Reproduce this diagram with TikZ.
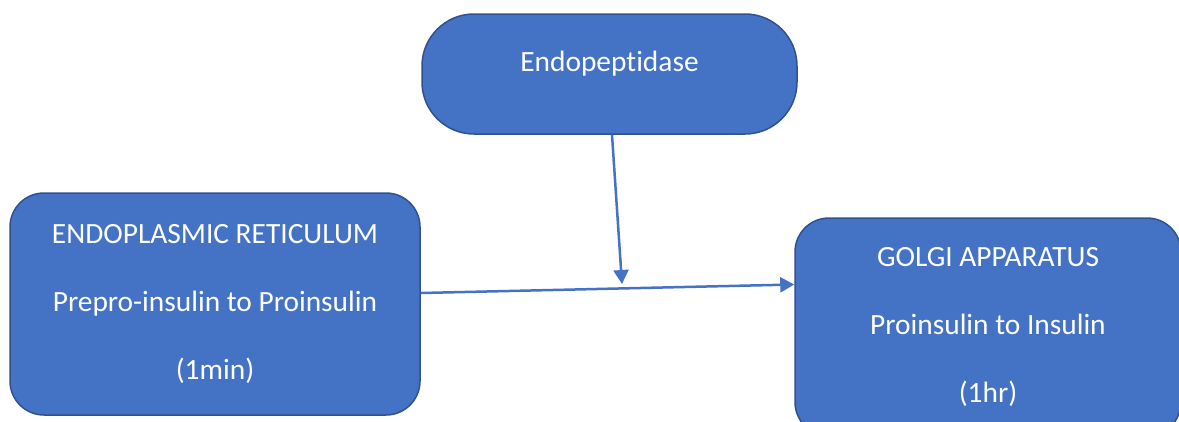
\documentclass[tikz,border=0pt]{standalone}
\usepackage{fontspec}
\setmainfont{Carlito}[Ligatures=NoCommon]
\usepackage{xcolor}
\usetikzlibrary{arrows.meta}

\definecolor{boxblue}{HTML}{4472C4}
\definecolor{edgeblue}{HTML}{2F528F}

\begin{document}
\begin{tikzpicture}[x=1pt, y=-1pt,
    organelle/.style={rectangle, rounded corners=34pt, draw=edgeblue, line width=1.5pt, fill=boxblue, text=white, align=center, inner sep=0pt, font=\fontsize{29.4}{68}\selectfont},
    enzyme/.style={rectangle, rounded corners=52pt, draw=edgeblue, line width=1.5pt, fill=boxblue, text=white, inner sep=0pt, font=\fontsize{29.4}{35}\selectfont},
    arrow/.style={-{Triangle[length=14pt, width=15pt]}, line width=2.5pt, draw=boxblue}
]
\useasboundingbox (0,0) rectangle (1179,421);

\node[enzyme, minimum width=375pt, minimum height=120pt, text height=20pt, text depth=26pt] (ep) at (609.5,74) {Endopeptidase};
\node[organelle, minimum width=410pt, minimum height=222pt] (er) at (215,304) {ENDOPLASMIC RETICULUM\\Prepro-insulin to Proinsulin\\(1min)};
\node[organelle, minimum width=386pt, minimum height=218pt] (ga) at (988,327) {GOLGI APPARATUS\\Proinsulin to Insulin\\(1hr)};

\coordinate (meet) at (622,284);

\draw[arrow] ([yshift=11pt]er.east) -- ([yshift=42.5pt]ga.west);
\draw[arrow] ([xshift=2.5pt]ep.south) -- (meet);
\end{tikzpicture}
\end{document}
